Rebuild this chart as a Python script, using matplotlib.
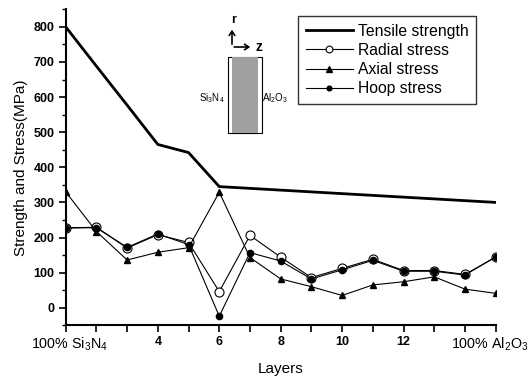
import matplotlib
matplotlib.use('Agg')
import matplotlib.pyplot as plt
from matplotlib.patches import Rectangle, FancyArrowPatch

plt.rcParams['font.family'] = ['Liberation Sans', 'DejaVu Sans']
plt.rcParams['mathtext.fontset'] = 'custom'
plt.rcParams['mathtext.rm'] = 'Liberation Sans'

# data
layers = [1, 2, 3, 4, 5, 6, 7, 8, 9, 10, 11, 12, 13, 14, 15]
tensile = [800, 688, 577, 465, 442, 345, 340, 335, 330, 325, 320, 315, 310, 305, 300]
radial = [228, 229, 170, 208, 186, 46, 206, 144, 86, 112, 138, 106, 106, 95, 144]
axial = [330, 217, 136, 158, 171, 329, 143, 82, 60, 35, 65, 74, 88, 53, 41]
hoop = [227, 228, 172, 210, 180, -24, 157, 133, 82, 108, 135, 104, 104, 93, 145]
xtick_labels = {4: '4', 6: '6', 8: '8', 10: '10', 12: '12'}
end_labels = {1: '100% Si$_3$N$_4$', 15: '100% Al$_2$O$_3$'}

W, H = 531, 376
fig = plt.figure(figsize=(W/100, H/100), dpi=100)
ax = fig.add_axes([65.7/W, 1-325.3/H, (495.7-65.7)/W, (325.3-9.3)/H])

ax.plot(layers, tensile, 'k-', lw=2, label='Tensile strength')
ax.plot(layers, radial, 'k-', lw=0.8, marker='o', ms=6.5, mfc='white', mec='k', mew=0.8,
        label='Radial stress')
ax.plot(layers, axial, 'k-', lw=0.8, marker='^', ms=5, label='Axial stress')
ax.plot(layers, hoop, 'k-', lw=0.8, marker='o', ms=4.5, label='Hoop stress')

ax.set_xlim(1, 15)
ax.set_ylim(-50, 850)
ax.spines['top'].set_visible(False)
ax.spines['right'].set_visible(False)
ax.spines['left'].set_linewidth(1.5)
ax.spines['bottom'].set_linewidth(1.5)

ax.set_xticks(layers)
ax.set_xticklabels([xtick_labels.get(v, '') for v in layers], fontsize=9, fontweight='bold')
# end labels (materials) drawn separately so they can sit off-centre like the original
for v, s in end_labels.items():
    dx = 3 if v == 1 else -4.3
    ax.annotate(s, xy=(v, 0), xycoords=('data', 'axes fraction'),
                xytext=(dx, -17), textcoords='offset points',
                ha='center', va='baseline', fontsize=10.3, annotation_clip=False)

ax.set_yticks(range(0, 801, 100))
ax.set_yticks(range(-50, 851, 50), minor=True)
for t in ax.get_yticklabels():
    t.set_fontsize(9)
    t.set_fontweight('bold')
ax.tick_params(axis='both', which='major', length=5, width=1.2, direction='out', pad=3)
ax.tick_params(axis='y', which='minor', length=3, width=1.0, direction='out')

ax.set_xlabel('Layers', fontsize=11, labelpad=10)
ax.set_ylabel('Strength and Stress(MPa)', fontsize=11, labelpad=4)

leg = ax.legend(loc='upper left', bbox_to_anchor=((298-65.7)/430, 1-(16-9.3)/316),
                fontsize=11.3, frameon=True, fancybox=False, edgecolor='k',
                labelspacing=0.26, handlelength=3.0, handletextpad=0.3,
                borderpad=0.5, borderaxespad=0, markerscale=0.75)
leg.get_frame().set_linewidth(1.0)

# inset sketch of the graded cylinder
def fx(px):
    return px / W

def fy(py):
    return 1 - py / H

fig.add_artist(Rectangle((fx(228), fy(133)), fx(262)-fx(228), fy(57)-fy(133),
                         transform=fig.transFigure, fc='white', ec='k', lw=0.8))
fig.add_artist(Rectangle((fx(232), fy(133)), fx(258)-fx(232), fy(57)-fy(133),
                         transform=fig.transFigure, fc='#a0a0a0', ec='none'))
fig.add_artist(FancyArrowPatch((fx(232), fy(47)), (fx(232), fy(27)),
                               transform=fig.transFigure, arrowstyle='->,head_length=3,head_width=2',
                               lw=1.2, color='k', mutation_scale=1))
fig.add_artist(FancyArrowPatch((fx(231.4), fy(47)), (fx(253), fy(47)),
                               transform=fig.transFigure, arrowstyle='->,head_length=3,head_width=2',
                               lw=1.2, color='k', mutation_scale=1))
fig.text(fx(234), fy(20), 'r', fontsize=9, fontweight='bold', ha='center', va='center')
fig.text(fx(259), fy(47), 'z', fontsize=10, fontweight='bold', ha='center', va='center')
fig.text(fx(212), fy(98), 'Si$_3$N$_4$', fontsize=7, ha='center', va='center')
fig.text(fx(275), fy(98), 'Al$_2$O$_3$', fontsize=7, ha='center', va='center')

fig.savefig('out.png', dpi=100)
